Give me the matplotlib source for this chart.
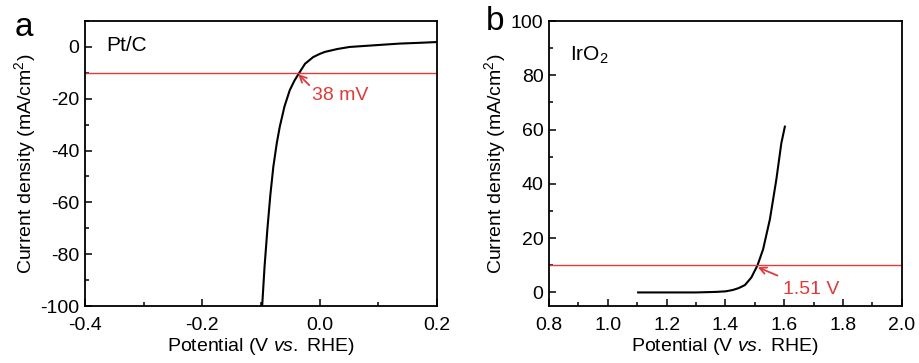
import matplotlib
matplotlib.use("Agg")
import matplotlib.pyplot as plt
from matplotlib.ticker import MultipleLocator, FormatStrFormatter

plt.rcParams['font.family'] = ['Liberation Sans', 'DejaVu Sans']
plt.rcParams['mathtext.fontset'] = 'custom'
plt.rcParams['mathtext.rm'] = 'Liberation Sans'
plt.rcParams['mathtext.it'] = 'Liberation Sans:italic'
plt.rcParams['mathtext.bf'] = 'Liberation Sans:bold'
plt.rcParams['axes.unicode_minus'] = False

# Panel a: Pt/C (HER)
ptc_potential = [-0.098, -0.094, -0.089, -0.084, -0.079, -0.073, -0.068, -0.060, -0.051,
                 -0.043, -0.0356, -0.025, -0.011, 0.000, 0.009, 0.030, 0.051, 0.090,
                 0.136, 0.170, 0.200]
ptc_current = [-100, -85, -70, -57, -46.3, -37, -30.8, -23, -16.7,
               -13, -10.3, -6.5, -3.9, -2.7, -1.9, -0.8, 0.0, 0.6,
               1.3, 1.6, 1.9]
ref_a = -10
label_a = "38 mV"

# Panel b: IrO2 (OER)
iro2_potential = [1.103, 1.20, 1.30, 1.369, 1.40, 1.425, 1.445, 1.466, 1.488, 1.509,
                  1.528, 1.551, 1.573, 1.590, 1.602]
iro2_current = [0.0, 0.0, 0.0, 0.2, 0.4, 0.9, 1.6, 2.7, 5.5, 10.0,
                15.9, 26.9, 41.6, 55.0, 61.1]
ref_b = 10
label_b = "1.51 V"

red = '#e03a3a'
fs = 14

fig = plt.figure(figsize=(9.19, 3.63), dpi=100)
ax1 = fig.add_axes([0.0925, 0.157, 0.383, 0.785])
ax2 = fig.add_axes([0.5974, 0.157, 0.384, 0.785])

def style(ax, xmaj, ymaj):
    ax.xaxis.set_major_locator(MultipleLocator(xmaj))
    ax.xaxis.set_minor_locator(MultipleLocator(xmaj / 2))
    ax.yaxis.set_major_locator(MultipleLocator(ymaj))
    ax.yaxis.set_minor_locator(MultipleLocator(ymaj / 2))
    ax.tick_params(which='both', direction='in', top=False, right=False, labelsize=fs)
    ax.tick_params(axis='x', which='both', pad=8)
    ax.tick_params(axis='y', which='both', pad=4)
    ax.tick_params(which='major', length=5, width=1.1)
    ax.tick_params(which='minor', length=3, width=1.1)
    for s in ax.spines.values():
        s.set_linewidth(1.3)
    ax.set_xlabel(r'Potential (V $\it{vs.}$ RHE)', fontsize=fs, labelpad=1)
    ax.set_ylabel(r'Current density (mA/cm$^2$)', fontsize=fs, labelpad=2)

ax1.plot(ptc_potential, ptc_current, color='black', lw=1.5)
ax1.axhline(ref_a, color=red, lw=1.0)
ax1.set_xlim(-0.4, 0.2)
ax1.set_ylim(-100, 10)
style(ax1, 0.2, 20)
ax1.xaxis.set_major_formatter(FormatStrFormatter('%.1f'))
ax1.text(0.06, 0.915, 'Pt/C', transform=ax1.transAxes, fontsize=15, va='center', ha='left')
ax1.annotate(label_a, xy=(-0.0365, -10.5), xytext=(-0.013, -18.9),
             color=red, fontsize=fs, va='center', ha='left',
             arrowprops=dict(arrowstyle='->', color=red, lw=1.3,
                             shrinkA=0, shrinkB=0, mutation_scale=12,
                             relpos=(0.02, 0.9)))

ax2.plot(iro2_potential, iro2_current, color='black', lw=1.5)
ax2.axhline(ref_b, color=red, lw=1.0)
ax2.set_xlim(0.8, 2.0)
ax2.set_ylim(-5, 100)
style(ax2, 0.2, 20)
ax2.xaxis.set_major_formatter(FormatStrFormatter('%.1f'))
ax2.text(0.06, 0.88, r'IrO$_2$', transform=ax2.transAxes, fontsize=15, va='center', ha='left')
ax2.annotate(label_b, xy=(1.51, 9.3), xytext=(1.596, 1.2),
             color=red, fontsize=fs, va='center', ha='left',
             arrowprops=dict(arrowstyle='->', color=red, lw=1.3,
                             shrinkA=0, shrinkB=0, mutation_scale=12,
                             relpos=(-0.1, 1.3)))

fig.text(15 / 919, 1 - 27 / 363, 'a', fontsize=24, va='center', ha='left')
fig.text(486 / 919, 1 - 22 / 363, 'b', fontsize=24, va='center', ha='left')

fig.savefig('out.png', dpi=100)
